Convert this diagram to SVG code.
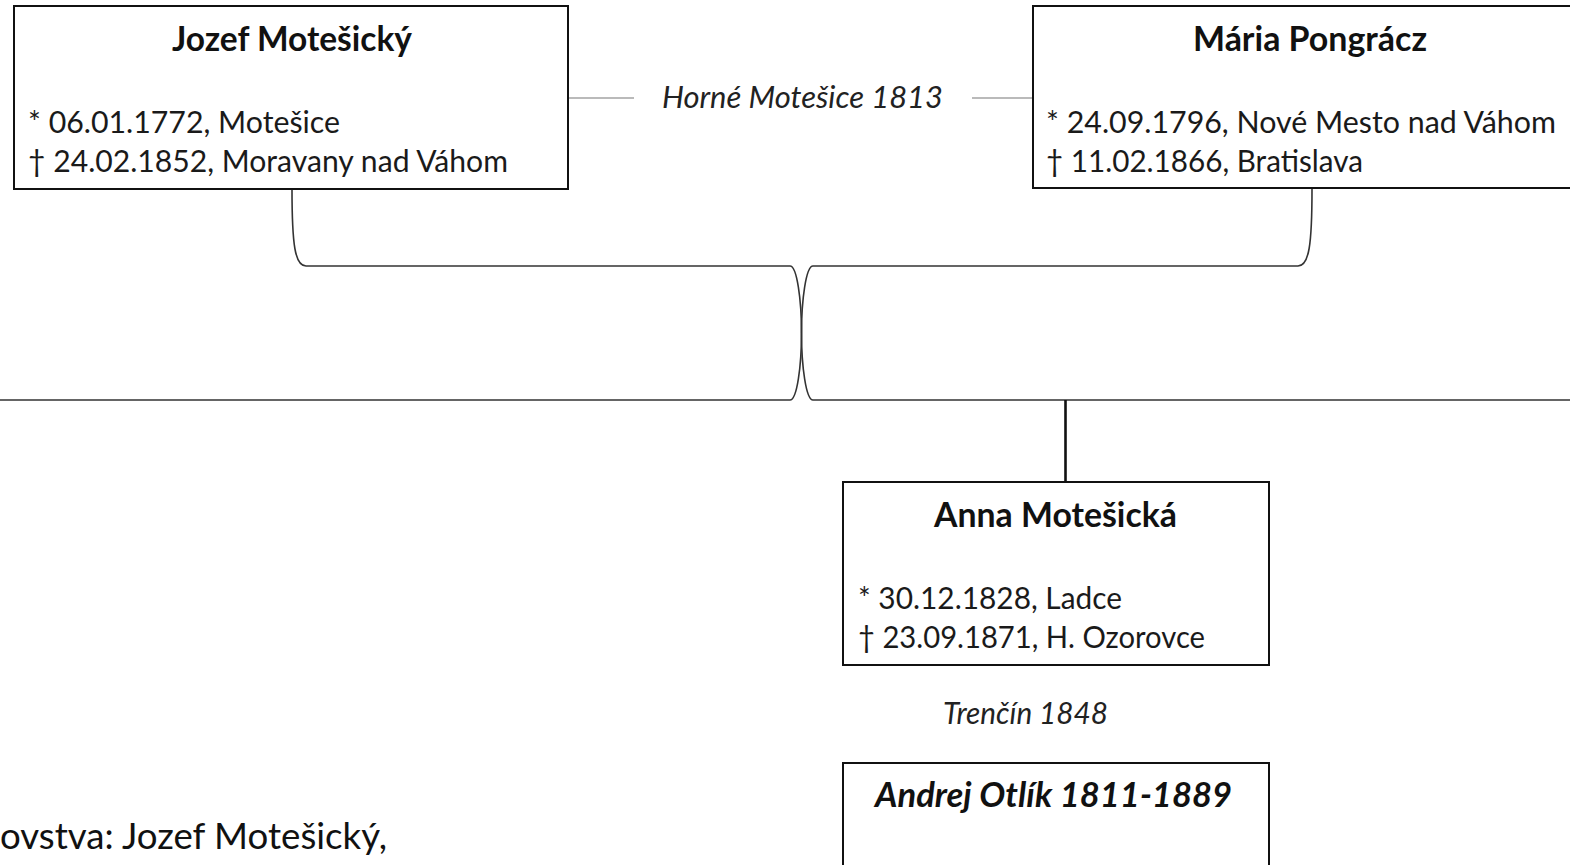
<svg xmlns="http://www.w3.org/2000/svg" width="1570" height="865" viewBox="0 0 1570 865">
<style>
  .box { fill: #ffffff; stroke: #111111; stroke-width: 2; }
  .title { font-family: Lato, "Open Sans", "DejaVu Sans", sans-serif; font-weight: bold; font-size: 34px; fill: #111111; }
  .body { font-family: Lato, "Open Sans", "DejaVu Sans", sans-serif; font-size: 31px; fill: #1a1a1a; }
  .ital { font-family: Lato, "Open Sans", "DejaVu Sans", sans-serif; font-style: italic; font-size: 30px; fill: #222222; }
  .conn { fill: none; stroke: #333333; stroke-width: 1.6; }
  .thin { fill: none; stroke: #777777; stroke-width: 1.2; }
</style>
<rect width="1570" height="865" fill="#ffffff"/>

<g id="connectors">
  <path class="thin" d="M568,98 L634,98"/>
  <path class="thin" d="M972,98 L1033,98"/>
  <path class="conn" d="M292,189 C292,245 295,266 306,266 L790,266 C797,266 801.5,300 801.5,333 C801.5,366 797,400 790,400 L0,400"/>
  <path class="conn" d="M1312,189 C1312,245 1309,266 1298,266 L813,266 C806,266 801.5,300 801.5,333 C801.5,366 806,400 813,400 L1570,400"/>
  <path d="M1065.5,400 L1065.5,482" stroke="#111111" stroke-width="2.6" fill="none"/>
</g>

<g id="marriage-label-1">
  <text class="ital" x="662" y="108" textLength="281" lengthAdjust="spacingAndGlyphs">Horné Motešice 1813</text>
</g>

<g id="node-jozef">
  <rect class="box" x="14" y="6" width="554" height="183"/>
  <text class="title" x="172" y="51" textLength="240" lengthAdjust="spacingAndGlyphs">Jozef Motešický</text>
  <text class="body" x="28" y="133" textLength="312" lengthAdjust="spacingAndGlyphs">* 06.01.1772, Motešice</text>
  <text class="body" x="28" y="172" textLength="480" lengthAdjust="spacingAndGlyphs">† 24.02.1852, Moravany nad Váhom</text>
</g>

<g id="node-maria">
  <rect class="box" x="1033" y="6" width="600" height="182"/>
  <text class="title" x="1193" y="51" textLength="234" lengthAdjust="spacingAndGlyphs">Mária Pongrácz</text>
  <text class="body" x="1046" y="133" textLength="510" lengthAdjust="spacingAndGlyphs">* 24.09.1796, Nové Mesto nad Váhom</text>
  <text class="body" x="1046" y="172" textLength="317" lengthAdjust="spacingAndGlyphs">† 11.02.1866, Bratislava</text>
</g>

<g id="node-anna">
  <rect class="box" x="843" y="482" width="426" height="183"/>
  <text class="title" x="934" y="527" textLength="243" lengthAdjust="spacingAndGlyphs">Anna Motešická</text>
  <text class="body" x="858" y="609" textLength="264" lengthAdjust="spacingAndGlyphs">* 30.12.1828, Ladce</text>
  <text class="body" x="858" y="648" textLength="347" lengthAdjust="spacingAndGlyphs">† 23.09.1871, H. Ozorovce</text>
</g>

<g id="marriage-label-2">
  <text class="ital" x="943" y="724" textLength="165" lengthAdjust="spacingAndGlyphs">Trenčín 1848</text>
</g>

<g id="node-andrej">
  <rect class="box" x="843" y="763" width="426" height="140"/>
  <text class="title" x="875" y="807" font-style="italic" textLength="357" lengthAdjust="spacingAndGlyphs">Andrej Otlík 1811-1889</text>
</g>

<g id="caption">
  <text x="0" y="849" font-family="Lato, 'Open Sans', 'DejaVu Sans', sans-serif" font-size="37" fill="#111111" textLength="387" lengthAdjust="spacingAndGlyphs">ovstva: Jozef Motešický,</text>
</g>
</svg>
